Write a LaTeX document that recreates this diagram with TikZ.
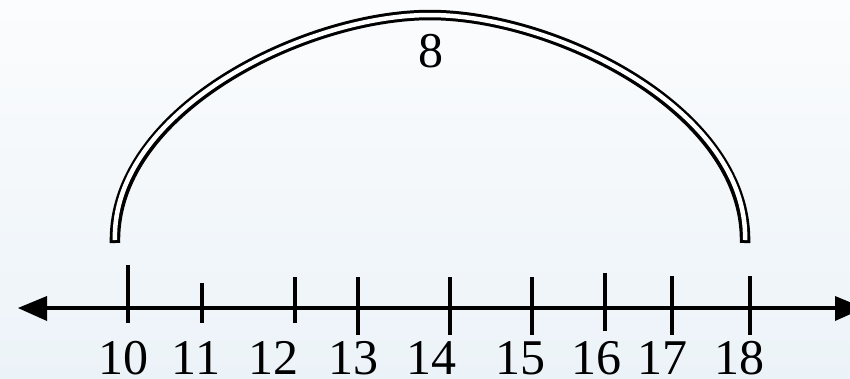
\documentclass[tikz,border=0pt]{standalone}
\usepackage{fontspec}
\setmainfont{Liberation Serif}
\begin{document}
\begin{tikzpicture}[x=1pt,y=-1pt,
  lbl/.style={font=\fontsize{50}{60}\selectfont, anchor=base, inner sep=0pt},
  tickline/.style={line width=3.5pt},
  axisline/.style={line width=4.5pt},
  tipfill/.style={fill=black},
  archout/.style={line width=10.5pt, line cap=butt, line join=round},
  archin/.style={line width=4.5pt, white, line cap=butt, shorten <=3pt, shorten >=3pt}]
\useasboundingbox (0,0) rectangle (850,378);
\clip (0,0) rectangle (850,378);
\shade[top color={rgb,255:red,251;green,252;blue,253}, bottom color={rgb,255:red,236;green,243;blue,248}] (0,0) rectangle (850,378);
% axis
\coordinate (axl) at (47,308);
\coordinate (axr) at (835,308);
\draw[axisline] (axl) -- (axr);
\fill[tipfill] (18,308) -- (47,296) -- (47,321) -- cycle;
\fill[tipfill] (835,296) -- (835,321) -- (864,308) -- cycle;
% ticks
\foreach \x/\t/\b in {128/265/323, 202/283/323, 295/277/323, 358/277/335, 450/277/335, 532/277/335, 605/273/331, 672/276/335, 750/276/335}
  \draw[tickline] (\x,\t) -- (\x,\b);
% labels
\foreach \n/\x in {10/123, 11/196, 12/273, 13/353, 14/431, 15/520, 16/596, 17/662, 18/739}
  \node[lbl] (l\n) at (\x,374) {\n};
% arc
\coordinate (al) at (115,243);
\coordinate (atop) at (430,15);
\coordinate (ar) at (745,243);
\def\arcpath{(al) .. controls (112,110) and (305,15) .. (atop) .. controls (555,15) and (748,110) .. (ar)}
\draw[archout] \arcpath;
\draw[archin] \arcpath;
\node[lbl] (eight) at (431,67) {8};
\end{tikzpicture}
\end{document}
